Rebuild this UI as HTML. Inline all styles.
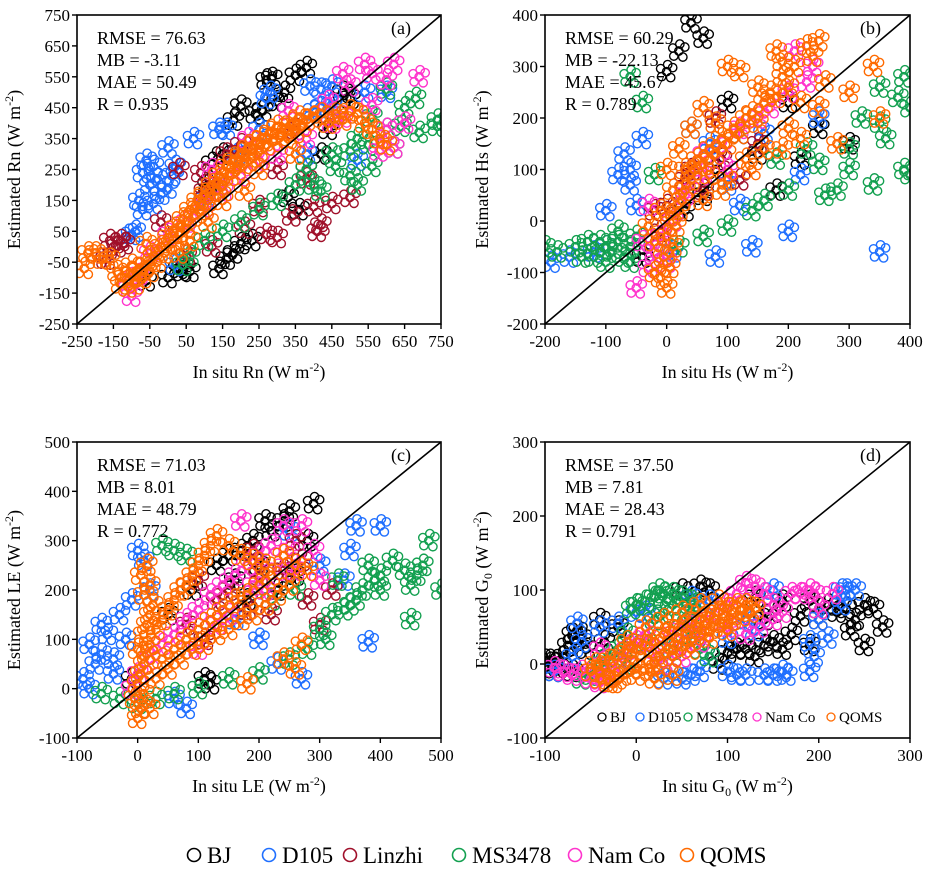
<!DOCTYPE html>
<html><head><meta charset="utf-8"><style>
html,body{margin:0;padding:0;background:#fff}
svg{display:block;font-family:"Liberation Serif",serif}
</style></head><body>
<svg id="chart" width="928" height="872" viewBox="0 0 928 872" xmlns="http://www.w3.org/2000/svg"></svg>
<script>
const seriesNames=["BJ","D105","Linzhi","MS3478","Nam Co","QOMS"];
const seriesColors=["#000000","#1f6fff","#a0102a","#13a050","#ff33cc","#ff6a00"];
const panelLetters=["(a)","(b)","(c)","(d)"];
const statsA=["RMSE = 76.63","MB = -3.11","MAE = 50.49","R = 0.935"];
const statsB=["RMSE = 60.29","MB = -22.13","MAE = 45.67","R = 0.789"];
const statsC=["RMSE = 71.03","MB = 8.01","MAE = 48.79","R = 0.772"];
const statsD=["RMSE = 37.50","MB = 7.81","MAE = 28.43","R = 0.791"];
const ticksA=[-250,-150,-50,50,150,250,350,450,550,650,750];
const ticksB=[-200,-100,0,100,200,300,400];
const ticksC=[-100,0,100,200,300,400,500];
const ticksD=[-100,0,100,200,300];
// panel (a) Rn, per series [x,y]
const aBJ=[[270,540],[285,545],[380,580],[350,555],[200,455],[180,410],[240,430],[320,500],[300,470],[260,440],[150,300],[120,270],[230,20],[200,10],[180,-20],[40,-80],[30,-70],[60,-80],[140,-70],[160,-40],[380,250],[420,300],[480,500],[500,480],[330,160],[0,-100],[-60,-110],[110,200],[440,380],[360,120]];
const aD105=[[-60,280],[-40,260],[-70,240],[-50,200],[-30,220],[10,230],[0,320],[-20,170],[-80,150],[-70,120],[-40,140],[0,190],[20,260],[70,350],[140,380],[160,380],[270,480],[280,500],[390,520],[420,510],[450,520],[540,500],[600,500],[400,440],[420,450],[450,460],[-90,50],[-100,40],[520,280],[380,300],[100,150],[190,300],[20,-60],[250,380]];
const aLinzhi=[[-130,20],[-120,10],[-160,20],[-140,0],[-170,-40],[400,130],[420,70],[340,100],[300,30],[270,40],[250,130],[450,140],[500,160],[410,50],[200,330],[160,300],[90,240],[100,180],[30,250],[-20,80],[210,60],[350,380],[380,220],[300,250],[140,200],[120,0],[50,-30]];
const aMS=[[690,370],[740,390],[740,410],[650,450],[680,480],[600,510],[560,260],[520,200],[500,230],[420,180],[400,200],[450,300],[500,310],[550,330],[600,380],[620,320],[560,420],[380,250],[300,150],[250,120],[200,80],[150,50],[100,20],[60,-30],[40,-60],[350,200],[460,260],[520,350],[640,390]];
const aNam=[[-100,-160],[540,590],[560,560],[620,590],[600,540],[480,560],[500,520],[560,460],[600,380],[620,320],[580,310],[650,400],[690,550],[440,470],[400,420],[300,300],[250,280],[200,230],[150,180],[100,130],[50,80],[0,40],[-50,-20],[-80,-90],[380,350],[450,400],[120,250],[220,350],[330,440],[480,420],[-110,-110]];
const aQOMS=[[-230,-70],[-220,-20],[-200,-20],[-180,-40],[-160,-40],[-140,-80],[-130,-120],[-120,-100],[-110,-130],[-100,-90],[-90,-120],[-80,-70],[-70,-100],[-60,-60],[-50,-80],[-40,-30],[-30,-50],[-20,0],[-10,-20],[0,30],[10,10],[20,60],[30,40],[40,90],[50,60],[60,120],[70,100],[80,150],[90,120],[100,170],[110,150],[120,200],[130,180],[140,230],[150,200],[160,260],[170,230],[180,280],[190,250],[200,300],[210,270],[220,320],[230,290],[240,340],[250,310],[260,350],[270,330],[280,370],[290,340],[300,390],[310,360],[320,380],[330,350],[340,400],[350,370],[360,420],[370,390],[380,410],[400,420],[420,430],[440,400],[460,430],[480,410],[500,440],[520,430],[540,400],[560,380],[580,350],[600,330],[150,150],[250,250],[350,300],[60,20],[110,80],[210,180],[-60,10],[30,-20],[-100,-60]];
// panel (b) Hs
const bBJ=[[40,385],[20,330],[60,355],[0,290],[100,230],[200,230],[250,180],[150,130],[80,100],[60,50],[30,20],[-20,-60],[-40,-70],[300,150],[220,120],[180,60],[120,170]];
const bD105=[[-190,-80],[-160,-70],[-120,-60],[-100,-50],[-80,90],[-70,130],[-60,70],[-50,30],[-100,20],[-40,160],[40,180],[70,150],[100,70],[140,-50],[200,-20],[350,-60],[160,170],[120,30],[220,90],[250,200],[-60,100],[10,-60],[80,-70]];
const bLinzhi=[[-20,20],[30,80],[60,60],[90,120],[120,80],[40,100],[0,30],[150,150],[80,200],[-10,-20]];
const bMS=[[-200,-50],[-180,-60],[-150,-50],[-130,-40],[-120,-70],[-110,-40],[-100,-50],[-90,-60],[-80,-40],[-70,-70],[-60,-50],[-50,-30],[-140,-70],[-100,-80],[-80,-20],[-60,-80],[390,280],[380,240],[400,220],[350,190],[360,160],[390,100],[400,90],[340,70],[300,100],[280,60],[250,110],[230,140],[260,50],[200,60],[160,40],[140,20],[100,-10],[60,-30],[20,-50],[320,200],[300,140],[350,260],[180,120],[-60,280],[-40,230],[-20,90]];
const bNam=[[-50,-130],[-30,-90],[-20,-60],[-10,-30],[0,-80],[10,0],[30,50],[60,90],[90,140],[120,180],[150,200],[200,250],[240,300],[210,330],[230,270],[170,220],[60,130],[100,100],[-30,30],[-40,-40]];
const bQOMS=[[0,-130],[-10,-110],[-20,-100],[5,-90],[-5,-70],[10,-50],[0,-30],[15,-10],[5,10],[20,20],[25,40],[30,60],[40,80],[45,100],[50,120],[60,110],[70,140],[80,130],[90,160],[100,150],[110,180],[120,170],[130,200],[140,210],[150,190],[160,230],[170,250],[180,240],[190,280],[200,260],[210,300],[220,230],[230,340],[250,350],[240,320],[180,330],[190,310],[100,300],[120,290],[150,260],[80,190],[60,220],[40,180],[20,140],[30,100],[10,60],[-10,20],[70,90],[100,80],[130,120],[160,140],[200,180],[250,220],[260,270],[300,250],[340,300],[350,200],[280,150],[220,160],[-20,-40],[-30,-10],[0,100],[60,40],[90,60],[140,100],[190,140]];
// panel (c) LE
const cBJ=[[290,375],[250,360],[240,340],[210,340],[220,320],[190,300],[170,280],[150,270],[130,250],[120,10],[110,20],[200,250],[260,230],[280,300],[230,200],[180,180],[160,220],[90,200],[50,150],[-10,20]];
const cD105=[[-90,20],[-80,90],[-70,50],[-60,70],[-50,110],[-40,60],[-30,150],[-20,100],[-10,180],[0,280],[10,260],[20,200],[-60,130],[-40,30],[360,330],[400,330],[380,95],[270,20],[230,50],[250,320],[300,250],[350,280],[200,100],[160,140],[340,220],[60,-20],[80,-40],[-80,0]];
const cLinzhi=[[200,230],[240,240],[270,260],[180,160],[150,200],[130,180],[280,180],[300,130],[220,150],[100,220],[260,300],[320,200],[80,130],[110,100],[190,280]];
const cMS=[[480,300],[470,250],[460,230],[450,210],[440,240],[420,260],[400,230],[390,220],[380,250],[370,200],[360,180],[350,170],[340,160],[330,220],[310,100],[300,120],[280,80],[250,60],[200,30],[150,20],[100,0],[60,-10],[30,-20],[0,-30],[-30,-20],[-60,-10],[450,140],[500,200],[40,290],[60,280],[80,270],[400,200],[320,150],[260,200],[220,180]];
const cNam=[[170,340],[240,330],[270,330],[290,280],[220,290],[200,270],[180,250],[160,230],[140,210],[120,190],[100,160],[80,140],[60,110],[40,90],[20,60],[0,30],[-10,0],[250,280],[210,200],[150,150],[190,210],[260,240],[300,220],[230,240],[130,130],[100,80]];
const cQOMS=[[0,-60],[5,-40],[-5,-20],[10,-10],[0,10],[5,30],[10,50],[15,70],[20,90],[10,110],[15,130],[20,150],[25,170],[10,190],[20,210],[5,230],[15,250],[30,120],[40,140],[50,160],[60,180],[70,200],[80,210],[90,230],[100,250],[110,270],[120,290],[130,310],[150,290],[170,270],[190,260],[210,250],[240,270],[260,250],[280,240],[40,60],[60,80],[80,100],[100,120],[120,140],[140,160],[160,180],[180,190],[200,210],[220,230],[250,210],[270,90],[240,60],[260,40],[180,10],[30,20],[50,40],[70,60],[90,80],[110,90],[130,110],[150,120],[170,140],[190,150],[210,170],[230,190],[20,-40],[0,80]];
// panel (d) G0 (no Linzhi)
const dBJ=[[-100,-5],[-95,5],[-90,0],[-85,-5],[-80,10],[-75,25],[-70,40],[-65,45],[-60,35],[-55,20],[-40,60],[-35,30],[-20,50],[50,100],[70,105],[80,100],[90,0],[100,15],[110,20],[120,20],[130,10],[140,25],[150,30],[160,20],[170,40],[180,65],[190,85],[200,75],[210,80],[220,70],[230,75],[240,60],[250,80],[260,75],[270,50],[250,25],[235,45],[190,25],[160,85],[130,90],[140,60],[150,70],[200,60],[-70,-10],[-100,5],[-90,-10]];
const dD105=[[-65,55],[-60,30],[-70,10],[-90,-10],[-40,50],[-20,55],[0,70],[10,70],[20,60],[30,-20],[40,-15],[50,-20],[60,-15],[70,-10],[80,10],[100,-10],[110,-15],[120,-15],[140,-15],[150,-15],[160,-10],[165,-15],[190,-10],[195,10],[200,60],[210,35],[225,100],[230,100],[240,100],[225,80],[150,100],[120,60],[100,35],[130,45],[60,90],[80,85],[190,30]];
const dLinzhi=[];
const dMS=[[-60,-20],[-50,-15],[-40,0],[-30,10],[-20,20],[-10,40],[-5,75],[0,80],[10,85],[20,90],[25,100],[30,95],[40,95],[50,90],[60,85],[40,80],[30,70],[20,60],[50,60],[60,40],[70,20],[80,10],[10,30],[0,20],[-10,0],[30,0],[40,20],[60,70]];
const dNam=[[-90,-5],[-80,-10],[-70,-15],[-60,-10],[-50,-20],[-40,-25],[-30,-15],[-20,0],[-10,20],[0,30],[10,40],[20,20],[40,40],[60,50],[80,60],[100,80],[110,95],[120,110],[130,105],[140,95],[150,80],[160,70],[170,95],[180,95],[190,100],[195,95],[200,75],[215,95],[100,50],[120,40],[135,50],[150,60],[70,30],[50,10],[30,0],[-40,20]];
const dQOMS=[[-50,-10],[-45,0],[-40,-20],[-35,-5],[-30,5],[-25,-25],[-20,10],[-15,-15],[-10,15],[-5,-5],[0,20],[5,0],[10,25],[15,-10],[20,30],[25,10],[30,40],[35,20],[40,45],[45,25],[50,50],[55,30],[60,55],[65,40],[70,60],[75,45],[80,65],[85,50],[90,70],[95,55],[100,75],[105,60],[110,80],[115,65],[120,80],[125,70],[130,75],[-20,-20],[0,-15],[20,0],[40,10],[60,20],[80,35],[100,45],[-30,-25],[10,50],[30,60],[50,70],[70,80],[90,85],[-10,30],[40,-15],[20,-20]];

const NS="http://www.w3.org/2000/svg";
const svg=document.getElementById('chart');
function mk(tag,attrs,parent){const e=document.createElementNS(NS,tag);for(const k in attrs)e.setAttribute(k,attrs[k]);(parent||svg).appendChild(e);return e;}
// cluster glyph offsets (pixels) so each observation marker reads as a dense clump
const glyph=[[0,0],[6,-4],[-5,5],[4,6],[-6,-3],[1,-7]];

const panels=[
 {L:77,R:441,T:15,B:324,ticks:ticksA,stats:statsA,data:[aBJ,aD105,aLinzhi,aMS,aNam,aQOMS],lab:"Rn",sub:false,ytx:14,legend:false},
 {L:545,R:910,T:15,B:324,ticks:ticksB,stats:statsB,data:[bBJ,bD105,bLinzhi,bMS,bNam,bQOMS],lab:"Hs",sub:false,ytx:482,legend:false},
 {L:77,R:441,T:442,B:738,ticks:ticksC,stats:statsC,data:[cBJ,cD105,cLinzhi,cMS,cNam,cQOMS],lab:"LE",sub:false,ytx:14,legend:false},
 {L:545,R:910,T:442,B:738,ticks:ticksD,stats:statsD,data:[dBJ,dD105,dLinzhi,dMS,dNam,dQOMS],lab:"G",sub:true,ytx:482,legend:true}
];

panels.forEach((p,pi)=>{
 const g=mk('g',{});
 
 
 const t0=p.ticks[0],t1=p.ticks[p.ticks.length-1];
 const sx=v=>p.L+(v-t0)/(t1-t0)*(p.R-p.L);
 const sy=v=>p.B-(v-t0)/(t1-t0)*(p.B-p.T);
 const cid='clip'+pi;
 const cp=mk('clipPath',{id:cid},g);
 mk('rect',{x:p.L,y:p.T,width:p.R-p.L,height:p.B-p.T},cp);
 const pts=mk('g',{'clip-path':'url(#'+cid+')'},g);
 
 
 p.data.forEach((arr,si)=>{
  const sg=mk('g',{fill:'none',stroke:seriesColors[si],'stroke-width':1.4},pts);
  
  
  arr.forEach(d=>{
   const pg=mk('g',{transform:'translate('+sx(d[0])+','+sy(d[1])+')'},sg);
   
   
   glyph.forEach(o=>mk('circle',{cx:o[0],cy:o[1],r:4.2},pg));
  });
 });
 const ln=mk('line',{x1:sx(t0),y1:sy(t0),x2:sx(t1),y2:sy(t1),stroke:'#000','stroke-width':1.6},g);
 
 
 const fr=mk('rect',{x:p.L,y:p.T,width:p.R-p.L,height:p.B-p.T,fill:'none',stroke:'#000','stroke-width':1.6},g);
 
 
 const xa=mk('g',{},g);
 
 
 const ya=mk('g',{},g);
 
 
 p.ticks.forEach(v=>{
  mk('line',{x1:sx(v),x2:sx(v),y1:p.B,y2:p.B+5,stroke:'#000','stroke-width':1.4},xa);
  const tx=mk('text',{x:sx(v),y:p.B+23,'font-size':17,'text-anchor':'middle'},xa);
  tx.textContent=v;
  
  
  mk('line',{x1:p.L-5,x2:p.L,y1:sy(v),y2:sy(v),stroke:'#000','stroke-width':1.4},ya);
  const ty=mk('text',{x:p.L-7,y:sy(v)+6,'font-size':17,'text-anchor':'end'},ya);
  ty.textContent=v;
  
  
 });
 const cx=(p.L+p.R)/2, cy=(p.T+p.B)/2;
 const xt=mk('text',{x:cx,y:p.B+54,'font-size':18,'text-anchor':'middle'},g);
 
 
 xt.innerHTML='In situ '+p.lab+(p.sub?'<tspan font-size="12" dy="4">0</tspan><tspan dy="-4"> </tspan>':' ')+'(W m<tspan font-size="12" dy="-7">-2</tspan><tspan dy="7">)</tspan>';
 const yt=mk('text',{x:0,y:0,'font-size':18,'text-anchor':'middle',transform:'translate('+(p.ytx+6)+','+cy+') rotate(-90)'},g);
 
 
 yt.innerHTML='Estimated '+p.lab+(p.sub?'<tspan font-size="12" dy="4">0</tspan><tspan dy="-4"> </tspan>':' ')+'(W m<tspan font-size="12" dy="-7">-2</tspan><tspan dy="7">)</tspan>';
 p.stats.forEach((s,i)=>{
  const st=mk('text',{x:p.L+20,y:p.T+29+i*22,'font-size':18},g);
  st.textContent=s;
  
  
 });
 const pl=mk('text',{x:p.R-50,y:p.T+19,'font-size':18},g);
 pl.textContent=panelLetters[pi];
 
 
 if(p.legend){
  const lg=mk('g',{},g);
  
  
  const xs=[602,640,688,757,831];
  [0,1,3,4,5].forEach((si,k)=>{
   mk('rect',{x:xs[k]-6,y:p.B-30,width:k==4?62:(k==2?66:(k==3?70:(k==1?44:30))),height:18,fill:'#fff'},lg);
   mk('circle',{cx:xs[k],cy:p.B-21,r:4,fill:'none',stroke:seriesColors[si],'stroke-width':1.3},lg);
   const lt=mk('text',{x:xs[k]+8,y:p.B-16,'font-size':15},lg);
   lt.textContent=seriesNames[si];
   
   
  });
 }
});
const leg=mk('g',{});


const legX=[194,269,350,459,575,687];
seriesNames.forEach((n,i)=>{
 const eg=mk('g',{},leg);
 
 
 mk('circle',{cx:legX[i],cy:855,r:6.5,fill:'none',stroke:seriesColors[i],'stroke-width':1.6},eg);
 const t=mk('text',{x:legX[i]+13,y:863,'font-size':23},eg);
 t.textContent=n;
});
</script>
</body></html>
